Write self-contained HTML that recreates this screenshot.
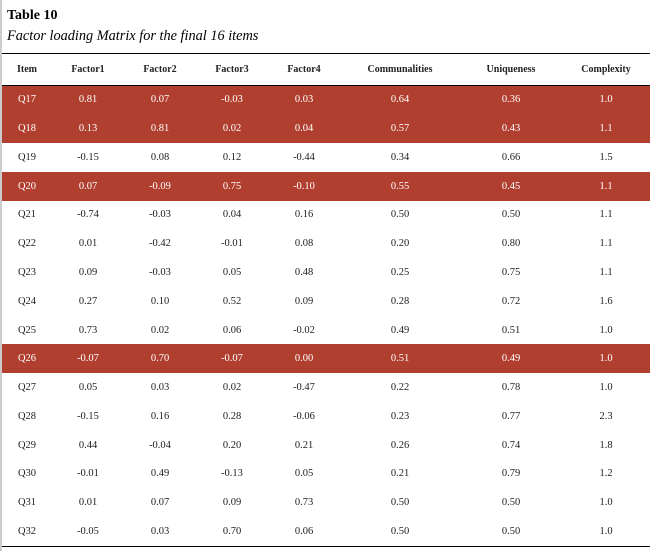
<!DOCTYPE html>
<html><head><meta charset="utf-8"><style>
body{margin:0;width:650px;height:551px;background:#fff;font-family:"Liberation Serif",serif;position:relative;overflow:hidden}
.lb{position:absolute;left:0;top:0;width:2px;height:551px;background:#ccc}
h1{position:absolute;left:7px;top:8px;margin:0;font-size:14px;font-weight:bold}
h2{position:absolute;left:7px;top:28px;margin:0;font-size:14.3px;font-style:italic;font-weight:normal}
table{position:absolute;left:2px;top:53px;width:648px;border-collapse:collapse;border-top:1.5px solid #000;border-bottom:1.5px solid #000;font-size:10.5px;color:#222}
th{height:30.5px;font-size:10px;font-weight:bold;border-bottom:1.5px solid #000;text-align:center;padding:0}
td{height:28.78px;text-align:center;padding:0}
tr.hl td{background:#b03f2f;color:#fff}
</style></head><body>
<div class="lb"></div>
<h1>Table 10</h1>
<h2>Factor loading Matrix for the final 16 items</h2>
<table>
<colgroup><col style="width:50px"><col style="width:72px"><col style="width:72px"><col style="width:72px"><col style="width:72px"><col style="width:120px"><col style="width:102px"><col style="width:88px"></colgroup>
<thead><tr><th>Item</th><th>Factor1</th><th>Factor2</th><th>Factor3</th><th>Factor4</th><th>Communalities</th><th>Uniqueness</th><th>Complexity</th></tr></thead>
<tbody id="tb"></tbody></table>
<script>
const rows=[
["Q17","0.81","0.07","-0.03","0.03","0.64","0.36","1.0",1],
["Q18","0.13","0.81","0.02","0.04","0.57","0.43","1.1",1],
["Q19","-0.15","0.08","0.12","-0.44","0.34","0.66","1.5",0],
["Q20","0.07","-0.09","0.75","-0.10","0.55","0.45","1.1",1],
["Q21","-0.74","-0.03","0.04","0.16","0.50","0.50","1.1",0],
["Q22","0.01","-0.42","-0.01","0.08","0.20","0.80","1.1",0],
["Q23","0.09","-0.03","0.05","0.48","0.25","0.75","1.1",0],
["Q24","0.27","0.10","0.52","0.09","0.28","0.72","1.6",0],
["Q25","0.73","0.02","0.06","-0.02","0.49","0.51","1.0",0],
["Q26","-0.07","0.70","-0.07","0.00","0.51","0.49","1.0",1],
["Q27","0.05","0.03","0.02","-0.47","0.22","0.78","1.0",0],
["Q28","-0.15","0.16","0.28","-0.06","0.23","0.77","2.3",0],
["Q29","0.44","-0.04","0.20","0.21","0.26","0.74","1.8",0],
["Q30","-0.01","0.49","-0.13","0.05","0.21","0.79","1.2",0],
["Q31","0.01","0.07","0.09","0.73","0.50","0.50","1.0",0],
["Q32","-0.05","0.03","0.70","0.06","0.50","0.50","1.0",0]];
const tb=document.getElementById('tb');
rows.forEach(r=>{const tr=document.createElement('tr');


if(r[8])tr.className='hl';
for(let i=0;i<8;i++){const td=document.createElement('td');td.textContent=r[i];tr.appendChild(td);}
tb.appendChild(tr);});
</script>
</body></html>
